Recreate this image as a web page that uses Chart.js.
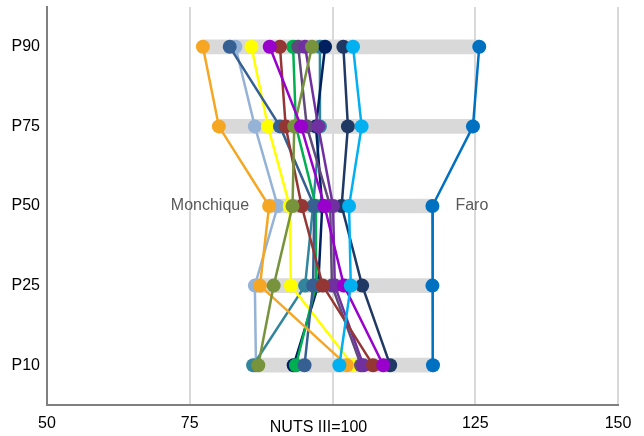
<!DOCTYPE html>
<html>
<head>
<meta charset="utf-8">
<script src="https://cdn.jsdelivr.net/npm/chart.js@4/dist/chart.umd.min.js"></script>
<style>
  html, body { margin: 0; padding: 0; background: #fff; }
  #wrap { width: 644px; height: 436px; }
</style>
</head>
<body>
<div id="wrap"><canvas id="chart"></canvas></div>
<script>
// percentile levels, top to bottom
const levels = ["P90", "P75", "P50", "P25", "P10"];
const xTicks = [50, 75, 100, 125, 150];

// index values (NUTS III = 100) per municipality, in the order of `levels`
const monchique = [77.3, 80.1, 88.9, 87.3, 102.5];
const faro      = [125.7, 124.6, 117.5, 117.5, 117.6];
const lightBlue = [83.0, 86.4, 90.4, 86.4, 86.6];
const steelBlue = [82.0, 90.8, 96.8, 96.6, 95.1];
const yellow    = [85.8, 88.7, 92.5, 92.7, 103.6];
const violet    = [89.0, 94.5, 98.6, 102.0, 108.9];
const brown     = [90.8, 91.8, 94.6, 98.3, 107.1];
const green     = [93.1, 93.6, 97.1, 97.1, 93.6];
const slate     = [94.0, 95.5, 99.6, 99.9, 105.0];
const purple    = [95.2, 97.5, 100.1, 100.4, 105.4];
const olive     = [96.4, 93.3, 93.0, 89.7, 87.0];
const teal      = [97.8, 97.8, 96.6, 95.2, 86.1];
const navy      = [98.7, 97.1, 98.2, 97.5, 93.2];
const darkNavy  = [101.9, 102.7, 101.6, 105.2, 110.1];
const cyan      = [103.6, 105.1, 102.9, 103.2, 101.2];

// bottom-to-top drawing order
const series = [
  { name: "darkNavy", values: darkNavy, color: "#1F3864" },
  { name: "lightBlue", values: lightBlue, color: "#95B3D7" },
  { name: "teal", values: teal, color: "#31859C" },
  { name: "yellow", values: yellow, color: "#FFFF00" },
  { name: "navy", values: navy, color: "#002060" },
  { name: "green", values: green, color: "#00B050" },
  { name: "slate", values: slate, color: "#604A7B" },
  { name: "purple", values: purple, color: "#7030A0" },
  { name: "steelBlue", values: steelBlue, color: "#366092" },
  { name: "brown", values: brown, color: "#943634" },
  { name: "Monchique", values: monchique, color: "#F5A623" },
  { name: "olive", values: olive, color: "#77933C" },
  { name: "violet", values: violet, color: "#9900CC" },
  { name: "cyan", values: cyan, color: "#00B0F0" },
  { name: "Faro", values: faro, color: "#0070C0" },
];

// grey range bars: min..max at each level
const ranges = levels.map((_, i) => {
  const vals = series.map(s => s.values[i]);
  return [Math.min(...vals), Math.max(...vals)];
});

const FONT = "'Liberation Sans', Arial, sans-serif";

const datasets = [{
  type: "bar",
  label: "range",
  data: ranges,
  backgroundColor: "#D9D9D9",
  barThickness: 14,
  borderSkipped: false,
  indexAxis: "y",
  order: 1000,
}];

series.forEach((s, i) => {
  datasets.push({
    type: "line",
    label: s.name,
    data: s.values.map((v, j) => ({ x: v, y: levels[j] })),
    borderColor: s.color,
    backgroundColor: s.color,
    borderWidth: 2.5,
    pointRadius: 7,
    pointBorderWidth: 0,
    pointBackgroundColor: s.color,
    indexAxis: "y",
    fill: false,
    tension: 0,
    order: series.length - i,
  });
});

// extra text: end labels and the centre axis caption
const annotate = {
  id: "annotate",
  afterDatasetsDraw(chart) {
    const ctx = chart.ctx;
    const x = chart.scales.x;
    const y = chart.scales.y;
    const p50 = levels.indexOf("P50");
    ctx.save();
    ctx.font = "16px " + FONT;
    ctx.fillStyle = "#595959";
    ctx.textBaseline = "middle";
    ctx.textAlign = "right";
    ctx.fillText("Monchique", x.getPixelForValue(monchique[p50]) - 20, y.getPixelForValue(p50));
    ctx.textAlign = "left";
    ctx.fillText("Faro", x.getPixelForValue(faro[p50]) + 23, y.getPixelForValue(p50));
    ctx.fillStyle = "#000";
    ctx.textAlign = "center";
    ctx.fillText("NUTS III=100", x.getPixelForValue(100) - 14, chart.chartArea.bottom + 23);
    ctx.restore();
  },
};

new Chart(document.getElementById("chart"), {
  type: "bar",
  data: { labels: levels, datasets },
  options: {
    indexAxis: "y",
    responsive: true,
    maintainAspectRatio: false,
    animation: false,
    layout: { padding: { left: 0, right: 26, top: 5, bottom: 0 } },
    plugins: { legend: { display: false }, tooltip: { enabled: false } },
    scales: {
      x: {
        type: "linear",
        min: 50,
        max: 150,
        afterBuildTicks: (scale) => { scale.ticks = xTicks.map(v => ({ value: v })); },
        ticks: {
          color: "#000",
          font: { family: FONT, size: 16 },
          padding: 9,
          maxRotation: 0,
          callback: (v) => (v === 100 ? "" : v),
        },
        grid: {
          drawTicks: false,
          lineWidth: 2,
          color: (c) => (c.tick && c.tick.value === 50 ? "rgba(0,0,0,0)" : "#D9D9D9"),
        },
        border: { display: true, color: "#808080", width: 2 },
        afterFit: (scale) => { scale.height = 31; },
      },
      y: {
        type: "category",
        offset: true,
        ticks: {
          color: "#000",
          font: { family: FONT, size: 16 },
          padding: 7,
        },
        grid: { display: false, drawTicks: false },
        border: { display: true, color: "#808080", width: 2 },
        afterFit: (scale) => {
          scale.width = 47;
          scale.paddingTop = 0;
          scale.paddingBottom = 0;
        },
      },
    },
  },
  plugins: [annotate],
});
</script>
</body>
</html>
